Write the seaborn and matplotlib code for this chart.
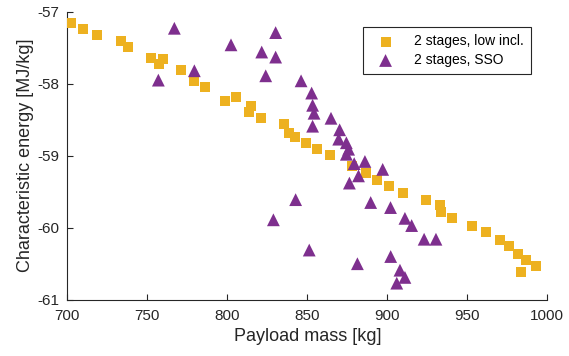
import matplotlib
matplotlib.use("Agg")
import matplotlib.pyplot as plt
import seaborn as sns
import pandas as pd

# ---- data ----
low_incl_mass = [702.1, 709.6, 718.4, 733.6, 737.7, 752.3, 757.5, 760.0, 770.9, 779.4,
                 786.3, 798.6, 805.4, 814.8, 813.8, 820.9, 835.6, 838.6, 842.5, 849.2,
                 856.3, 864.2, 878.0, 886.5, 893.4, 901.3, 909.6, 924.2, 932.9, 933.8,
                 940.4, 952.7, 961.6, 970.4, 976.1, 981.9, 986.7, 992.9, 983.6]
low_incl_energy = [-57.16, -57.24, -57.33, -57.40, -57.49, -57.64, -57.73, -57.66, -57.81, -57.96,
                   -58.05, -58.24, -58.19, -58.31, -58.39, -58.48, -58.56, -58.68, -58.74, -58.82,
                   -58.91, -58.99, -59.14, -59.24, -59.34, -59.42, -59.52, -59.61, -59.69, -59.78,
                   -59.87, -59.97, -60.06, -60.17, -60.26, -60.37, -60.45, -60.53, -60.61]

sso_mass = [766.9, 756.9, 779.4, 802.3, 821.5, 830.2, 830.2, 824.0, 846.1, 852.7,
            853.3, 854.2, 853.3, 864.8, 870.2, 869.6, 874.4, 875.8, 874.4, 879.3,
            886.0, 882.0, 876.3, 897.1, 889.6, 902.0, 911.0, 915.2, 923.0, 930.4,
            842.7, 828.8, 851.2, 881.3, 902.1, 907.9, 911.0, 905.9]
sso_energy = [-57.23, -57.95, -57.82, -57.46, -57.56, -57.29, -57.63, -57.89, -57.96, -58.13,
              -58.30, -58.41, -58.59, -58.48, -58.64, -58.77, -58.82, -58.91, -58.98, -59.11,
              -59.08, -59.28, -59.38, -59.19, -59.65, -59.72, -59.87, -59.97, -60.16, -60.16,
              -59.61, -59.89, -60.31, -60.50, -60.40, -60.59, -60.69, -60.77]

series_labels = ["2 stages, low incl.", "2 stages, SSO"]
x_ticks = [700, 750, 800, 850, 900, 950, 1000]
y_ticks = [-61, -60, -59, -58, -57]

# ---- styling ----
sns.set_theme(style="white")
plt.rcParams["font.family"] = ["Liberation Sans", "DejaVu Sans"]
plt.rcParams["axes.unicode_minus"] = False

dark = "#262626"
col_sq = "#EDB120"
col_tri = "#7E2F8E"

fig = plt.figure(figsize=(5.69, 3.56), dpi=100)
ax = fig.add_axes([0.1183, 0.1581, 0.9619 - 0.1183, 0.9671 - 0.1581])

df_low = pd.DataFrame({"mass": low_incl_mass, "energy": low_incl_energy})
df_sso = pd.DataFrame({"mass": sso_mass, "energy": sso_energy})

sns.scatterplot(data=df_low, x="mass", y="energy", marker="s", s=52, color=col_sq,
                edgecolor="none", linewidth=0, label=series_labels[0], ax=ax, zorder=3)
sns.scatterplot(data=df_sso, x="mass", y="energy", marker="^", s=85, color=col_tri,
                edgecolor="none", linewidth=0, label=series_labels[1], ax=ax, zorder=3)

ax.set_xlim(700, 1000)
ax.set_ylim(-61, -57)
ax.set_xticks(x_ticks)
ax.set_yticks(y_ticks)
ax.set_xticklabels([str(t) for t in x_ticks])
ax.set_yticklabels([str(t) for t in y_ticks])

for side in ["top", "right"]:
    ax.spines[side].set_visible(False)
for side in ["left", "bottom"]:
    ax.spines[side].set_color(dark)
    ax.spines[side].set_linewidth(0.8)

ax.tick_params(axis="both", direction="in", length=4, width=0.8, colors=dark,
               labelsize=11, labelcolor=dark)
ax.tick_params(axis="x", pad=7, bottom=True)
ax.tick_params(axis="y", pad=5.5, left=True)

ax.set_xlabel("Payload mass [kg]", fontsize=13, color=dark, labelpad=3)
ax.set_ylabel("Characteristic energy [MJ/kg]", fontsize=13, color=dark, labelpad=3)

leg = ax.legend(loc="upper right", bbox_to_anchor=(0.9654, 0.9458), borderaxespad=0,
                fontsize=10, frameon=True, fancybox=False, borderpad=0.5,
                labelspacing=0.35, handlelength=2.3, handletextpad=0.9)
leg.get_frame().set_edgecolor(dark)
leg.get_frame().set_linewidth(0.8)
leg.get_frame().set_facecolor("white")
leg.get_frame().set_alpha(1)
for t in leg.get_texts():
    t.set_color("black")

fig.savefig("out.png", dpi=100)
